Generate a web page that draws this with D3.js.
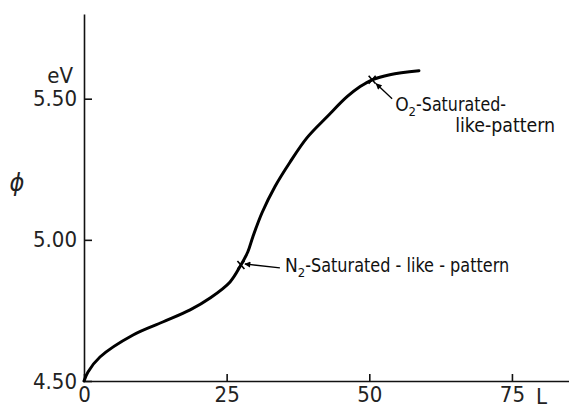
<!DOCTYPE html>
<html>
<head>
<meta charset="utf-8">
<script src="https://cdn.jsdelivr.net/npm/d3@7"></script>
<style>
    body { margin: 0; background: #fff; }
    svg { display: block; }
    .axis path, .axis line { stroke: #111; stroke-width: 1.6; }
    .axis text { font-family: 'DejaVu Sans Condensed', 'Liberation Sans Narrow', sans-serif; font-size: 22px; fill: #222; }
    .label { font-family: 'DejaVu Sans Condensed', 'Liberation Sans Narrow', sans-serif; fill: #222; }
    .note { font-family: 'DejaVu Sans Condensed', 'Liberation Sans Narrow', sans-serif; font-size: 19px; fill: #111; }
</style>
</head>
<body>
<script>
// exposure L vs work function phi (eV)
var exposure = [0, 0.7, 2.8, 8.6, 13.8, 18.6, 22.1, 25.6, 27.5, 28.7, 29.6, 31.2, 33.5, 36.1, 39.1, 42.6, 46.1, 48.4, 50.5, 53.6, 58.7];
var phi = [4.50, 4.532, 4.585, 4.663, 4.709, 4.752, 4.794, 4.851, 4.911, 4.957, 5.011, 5.096, 5.190, 5.275, 5.362, 5.436, 5.507, 5.543, 5.567, 5.585, 5.599];
var xTicks = [0, 25, 50, 75];
var yTicks = [4.50, 5.00, 5.50];
var marks = [
    { L: 27.5, phi: 4.911, gas: 'N', text: ['Saturated - like - pattern'] },
    { L: 50.5, phi: 5.567, gas: 'O', text: ['Saturated-', 'like-pattern'] }
];

var width = 569, height = 408;

var svg = d3.select('body').append('svg')
    .attr('width', width)
    .attr('height', height);

var x = d3.scaleLinear().domain([0, 85]).range([84, 569]);
var y = d3.scaleLinear().domain([4.5, 5.8]).range([381, 14]);

var xAxis = d3.axisBottom(x)
    .tickValues(xTicks)
    .tickFormat(d3.format('d'))
    .tickSizeInner(-7)
    .tickSizeOuter(0)
    .tickPadding(5);

var yAxis = d3.axisLeft(y)
    .tickValues(yTicks)
    .tickFormat(d3.format('.2f'))
    .tickSizeInner(-8)
    .tickSizeOuter(0)
    .tickPadding(7);

svg.append('g')
    .attr('class', 'axis')
    .attr('transform', 'translate(0,' + y(4.5) + ')')
    .call(xAxis);

svg.append('g')
    .attr('class', 'axis')
    .attr('transform', 'translate(' + x(0) + ',0)')
    .call(yAxis);

// units and axis names
svg.append('text').attr('class', 'label')
    .attr('x', x(75) + 24).attr('y', 404)
    .attr('font-size', 22)
    .text('L');
svg.append('text').attr('class', 'label')
    .attr('x', 73).attr('y', 83)
    .attr('text-anchor', 'end')
    .attr('font-size', 22)
    .text('eV');
svg.append('text').attr('class', 'label')
    .attr('x', 17).attr('y', 191)
    .attr('text-anchor', 'middle')
    .attr('font-size', 25)
    .attr('font-style', 'italic')
    .text('\u03d5');

// the curve
var line = d3.line()
    .x((d, i) => x(exposure[i]))
    .y((d, i) => y(phi[i]))
    .curve(d3.curveCatmullRom.alpha(0.5));

svg.append('path')
    .datum(exposure)
    .attr('d', line)
    .attr('fill', 'none')
    .attr('stroke', '#000')
    .attr('stroke-width', 3)
    .attr('stroke-linecap', 'round');

// arrow head
svg.append('defs').append('marker')
    .attr('id', 'head')
    .attr('viewBox', '0 0 10 10')
    .attr('refX', 9).attr('refY', 5)
    .attr('markerWidth', 10).attr('markerHeight', 6)
    .attr('markerUnits', 'userSpaceOnUse')
    .attr('orient', 'auto')
    .append('path')
    .attr('d', 'M0,0L10,5L0,10Z')
    .attr('fill', '#000');

marks.forEach(function (m) {
    var cx = x(m.L), cy = y(m.phi);
    // small x on the curve
    svg.append('path')
        .attr('d', 'M' + (cx - 3.5) + ',' + (cy - 4) + 'L' + (cx + 3.5) + ',' + (cy + 4) +
            'M' + (cx + 3.5) + ',' + (cy - 4) + 'L' + (cx - 3.5) + ',' + (cy + 4))
        .attr('stroke', '#000')
        .attr('stroke-width', 1.6)
        .attr('fill', 'none');

    var arrow, tx, ty, w1;
    if (m.gas === 'N') {
        arrow = [[cx + 39, cy + 3], [cx + 4, cy - 1]];
        tx = cx + 44; ty = cy + 7; w1 = 204;
    } else {
        arrow = [[cx + 20, cy + 19], [cx + 4, cy + 4]];
        tx = cx + 23; ty = cy + 31; w1 = 90;
    }
    svg.append('line')
        .attr('x1', arrow[0][0]).attr('y1', arrow[0][1])
        .attr('x2', arrow[1][0]).attr('y2', arrow[1][1])
        .attr('stroke', '#000')
        .attr('stroke-width', 1.3)
        .attr('marker-end', 'url(#head)');

    var t = svg.append('text').attr('class', 'note')
        .attr('x', tx).attr('y', ty);
    if (m.text.length > 1) t.attr('font-size', 18);
    t.append('tspan').text(m.gas);
    t.append('tspan').attr('dy', 5).attr('font-size', 13).text('2');
    t.append('tspan').attr('dy', -5)
        .attr('textLength', w1).attr('lengthAdjust', 'spacingAndGlyphs')
        .text('-' + m.text[0]);
    if (m.text.length > 1) {
        svg.append('text').attr('class', 'note')
            .attr('font-size', 18)
            .attr('x', tx + 60).attr('y', ty + 21)
            .attr('textLength', 100).attr('lengthAdjust', 'spacingAndGlyphs')
            .text(m.text[1]);
    }
});
</script>
</body>
</html>
